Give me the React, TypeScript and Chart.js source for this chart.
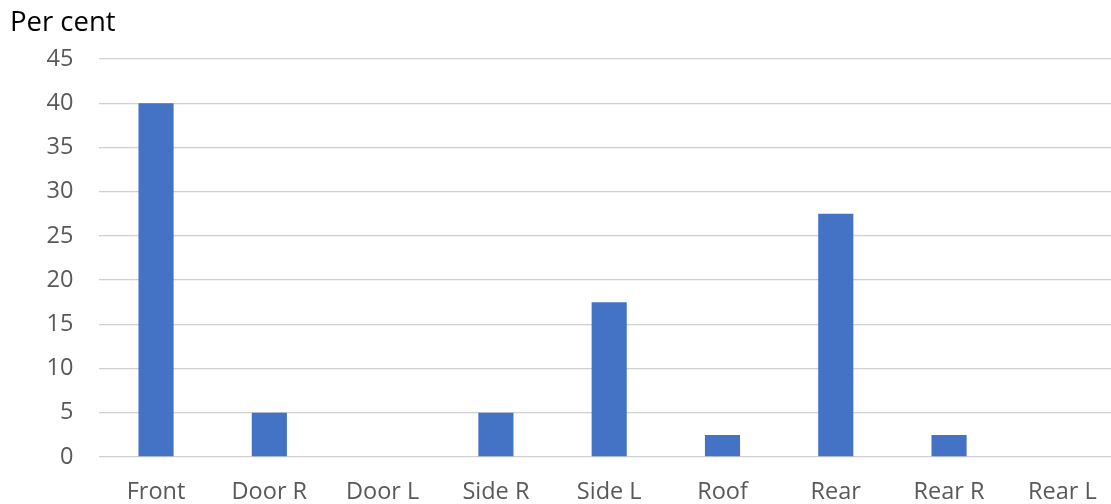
import React, { useEffect, useRef } from "react";
import { Chart, registerables } from "chart.js";

Chart.register(...registerables);

// Share of impacts by vehicle zone
const categories = ["Front", "Door R", "Door L", "Side R", "Side L", "Roof", "Rear", "Rear R", "Rear L"];
const perCent = [40, 5, 0, 5, 17.5, 2.5, 27.5, 2.5, 0];
const yTicks = { min: 0, max: 45, step: 5 };
const unitLabel = "Per cent";

const FONT = "'Open Sans', 'Noto Sans', sans-serif";

export default function App() {
  const ref = useRef<HTMLCanvasElement | null>(null);

  useEffect(() => {
    if (!ref.current) return;

    const unitTitle = {
      id: "unitTitle",
      afterDraw(chart: Chart) {
        const ctx = chart.ctx;
        ctx.save();
        ctx.font = `27.5px ${FONT}`;
        ctx.fillStyle = "#000000";
        ctx.textAlign = "left";
        ctx.textBaseline = "middle";
        ctx.fillText(unitLabel, 10, 23);
        ctx.restore();
      },
    };

    const chart = new Chart(ref.current, {
      type: "bar",
      data: {
        labels: categories,
        datasets: [
          {
            data: perCent,
            backgroundColor: "#4472C4",
            borderWidth: 0,
            categoryPercentage: 1,
            barPercentage: 0.31,
          },
        ],
      },
      options: {
        responsive: false,
        animation: false,
        devicePixelRatio: 1,
        layout: { padding: { top: 59, left: 0, right: 0, bottom: 0 } },
        plugins: {
          legend: { display: false },
          tooltip: { enabled: false },
        },
        scales: {
          x: {
            grid: { display: false, drawTicks: false },
            border: { display: false },
            ticks: {
              color: "#595959",
              font: { family: FONT, size: 23.5 },
              padding: 21,
              maxRotation: 0,
              autoSkip: false,
            },
            afterFit(scale: any) {
              scale.height = 47;
            },
          },
          y: {
            min: yTicks.min,
            max: yTicks.max,
            grid: { color: "#d0d0d0", lineWidth: 1.3, drawTicks: false },
            border: { display: false },
            ticks: {
              stepSize: yTicks.step,
              color: "#595959",
              font: { family: FONT, size: 23.5 },
              padding: 26,
            },
            afterFit(scale: any) {
              scale.width = 99.4;
            },
          },
        },
      },
      plugins: [unitTitle],
    });

    return () => chart.destroy();
  }, []);

  return (
    <div
      style={{
        position: "fixed",
        left: 0,
        top: 0,
        width: 1111,
        height: 504,
        overflow: "hidden",
        background: "#ffffff",
      }}
    >
      <canvas ref={ref} width={1119} height={504} style={{ display: "block" }} />
    </div>
  );
}
